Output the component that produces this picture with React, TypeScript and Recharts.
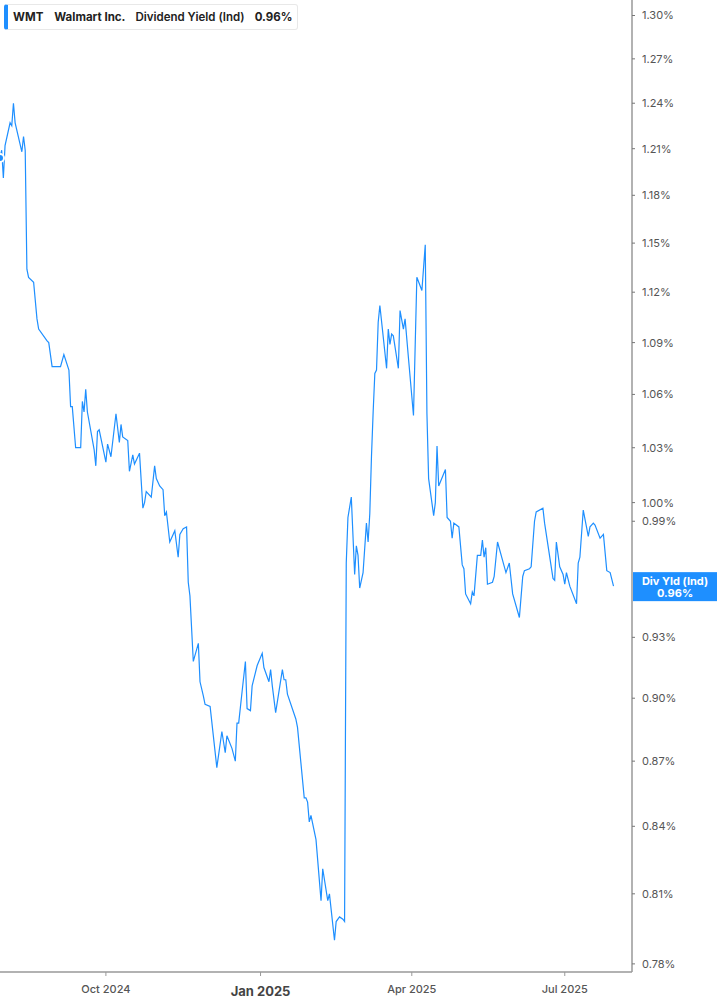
import React from "react";
import { LineChart, Line, XAxis, YAxis, ReferenceLine } from "recharts";

const dates: string[] = [
  "2024-07-30","2024-07-31","2024-08-01","2024-08-02","2024-08-05","2024-08-06","2024-08-07","2024-08-08","2024-08-12","2024-08-13",
  "2024-08-14","2024-08-15","2024-08-16","2024-08-19","2024-08-21","2024-08-22","2024-08-27","2024-08-28","2024-08-30","2024-09-03",
  "2024-09-04","2024-09-06","2024-09-09","2024-09-10","2024-09-11","2024-09-13","2024-09-16","2024-09-17","2024-09-18","2024-09-19",
  "2024-09-20","2024-09-24","2024-09-25","2024-09-26","2024-09-27","2024-10-01","2024-10-02","2024-10-04","2024-10-07","2024-10-09",
  "2024-10-10","2024-10-11","2024-10-14","2024-10-15","2024-10-17","2024-10-18","2024-10-21","2024-10-23","2024-10-24","2024-10-25",
  "2024-10-28","2024-10-30","2024-10-31","2024-11-02","2024-11-04","2024-11-05","2024-11-06","2024-11-08","2024-11-11","2024-11-13",
  "2024-11-14","2024-11-16","2024-11-18","2024-11-19","2024-11-20","2024-11-22","2024-11-25","2024-11-26","2024-11-28","2024-11-29",
  "2024-12-02","2024-12-06","2024-12-09","2024-12-11","2024-12-12","2024-12-15","2024-12-17","2024-12-18","2024-12-19","2024-12-21",
  "2024-12-23","2024-12-24","2024-12-26","2024-12-27","2024-12-30","2025-01-02","2025-01-03","2025-01-06","2025-01-07","2025-01-08",
  "2025-01-10","2025-01-14","2025-01-15","2025-01-16","2025-01-17","2025-01-22","2025-01-23","2025-01-27","2025-01-28","2025-01-29",
  "2025-01-30","2025-01-31","2025-02-03","2025-02-06","2025-02-07","2025-02-10","2025-02-11","2025-02-14","2025-02-15","2025-02-17",
  "2025-02-19","2025-02-20","2025-02-21","2025-02-22","2025-02-24","2025-02-26","2025-02-27","2025-02-28","2025-03-01","2025-03-03",
  "2025-03-05","2025-03-06","2025-03-07","2025-03-08","2025-03-09","2025-03-10","2025-03-11","2025-03-12","2025-03-13","2025-03-17",
  "2025-03-18","2025-03-19","2025-03-20","2025-03-21","2025-03-24","2025-03-25","2025-03-27","2025-03-28","2025-03-30","2025-04-02",
  "2025-04-04","2025-04-07","2025-04-09","2025-04-10","2025-04-11","2025-04-14","2025-04-15","2025-04-16","2025-04-17","2025-04-21",
  "2025-04-22","2025-04-24","2025-04-25","2025-04-26","2025-04-29","2025-05-01","2025-05-02","2025-05-03","2025-05-06","2025-05-07",
  "2025-05-08","2025-05-10","2025-05-12","2025-05-13","2025-05-14","2025-05-15","2025-05-16","2025-05-19","2025-05-20","2025-05-22",
  "2025-05-27","2025-05-29","2025-05-31","2025-06-04","2025-06-06","2025-06-07","2025-06-10","2025-06-11","2025-06-13","2025-06-14",
  "2025-06-18","2025-06-19","2025-06-24","2025-06-25","2025-06-26","2025-06-28","2025-06-30","2025-07-01","2025-07-02","2025-07-04",
  "2025-07-08","2025-07-09","2025-07-10","2025-07-12","2025-07-15","2025-07-16","2025-07-18","2025-07-19","2025-07-22","2025-07-24",
  "2025-07-26","2025-07-28","2025-07-30",
];

const yields: number[] = [
  1.204,1.209,1.191,1.212,1.227,1.225,1.240,1.227,1.208,1.218,
  1.209,1.134,1.129,1.126,1.104,1.098,1.091,1.090,1.076,1.076,
  1.076,1.083,1.074,1.053,1.053,1.030,1.030,1.056,1.050,1.063,
  1.050,1.029,1.020,1.039,1.040,1.022,1.032,1.025,1.049,1.033,
  1.043,1.036,1.034,1.017,1.026,1.021,1.027,0.997,1.000,1.006,
  1.003,1.020,1.013,1.009,1.007,0.993,0.995,0.979,0.985,0.971,
  0.983,0.986,0.987,0.958,0.951,0.918,0.927,0.908,0.901,0.897,
  0.896,0.867,0.884,0.874,0.882,0.876,0.870,0.888,0.888,0.903,
  0.918,0.895,0.894,0.906,0.916,0.922,0.915,0.908,0.914,0.906,
  0.893,0.914,0.909,0.909,0.902,0.890,0.886,0.853,0.853,0.851,
  0.842,0.845,0.834,0.807,0.821,0.807,0.810,0.790,0.798,0.800,
  0.799,0.798,0.968,0.992,1.003,0.962,0.977,0.972,0.955,0.963,
  0.989,0.979,0.994,1.025,1.050,1.072,1.074,1.102,1.112,1.075,
  1.098,1.089,1.095,1.094,1.075,1.109,1.098,1.104,1.081,1.048,
  1.129,1.121,1.149,1.049,1.013,0.993,1.000,1.031,1.009,1.018,
  0.992,0.990,0.981,0.989,0.987,0.967,0.965,0.952,0.947,0.953,
  0.951,0.972,0.972,0.980,0.971,0.976,0.957,0.958,0.961,0.979,
  0.963,0.968,0.952,0.940,0.961,0.964,0.965,0.966,0.990,0.995,
  0.997,0.989,0.960,0.959,0.979,0.966,0.962,0.957,0.963,0.956,
  0.947,0.968,0.971,0.996,0.982,0.987,0.989,0.988,0.981,0.983,
  0.964,0.963,0.956,
];

const xTickDates: string[] = ["2024-10-01", "2025-01-01", "2025-04-01", "2025-07-01"];
const xTickLabels: string[] = ["Oct 2024", "Jan 2025", "Apr 2025", "Jul 2025"];
const yTicks: number[] = [1.30, 1.27, 1.24, 1.21, 1.18, 1.15, 1.12, 1.09, 1.06, 1.03, 1.00, 0.99, 0.93, 0.90, 0.87, 0.84, 0.81, 0.78];

const ticker = "WMT";
const company = "Walmart Inc.";
const metric = "Dividend Yield (Ind)";
const badgeTitle = "Div Yld (Ind)";

const DAY = 86400000;
const toTs = (d: string) => Date.parse(d + "T00:00:00Z");
const data = dates.map((d, i) => ({ t: toTs(d), v: yields[i] }));
const xStart = toTs("2024-07-30");
const xEnd = xStart + 376 * DAY;
const xTicks = xTickDates.map(toTs);
const lastValue = yields[yields.length - 1];

const BLUE = "#1E8FFF";
const FONT = "Inter, 'Noto Sans', sans-serif";

const XTick = (props: any) => {
  const { x, y, payload } = props;
  const idx = xTicks.indexOf(payload.value);
  const label = idx >= 0 ? xTickLabels[idx] : "";
  const isYear = label.startsWith("Jan");
  return (
    <text
      x={x}
      y={y}
      dy={isYear ? 16 : 13}
      textAnchor="middle"
      fontFamily={FONT}
      fontSize={isYear ? 13 : 11}
      fontWeight={isYear ? 700 : 500}
      fill={isYear ? "#444" : "#555"}
    >
      {label}
    </text>
  );
};

const Badge = (props: any) => {
  const vb = props.viewBox || {};
  const bx = (vb.x ?? 0) + (vb.width ?? 0) + 1;
  const cy = vb.y ?? 0;
  return (
    <g>
      <rect x={bx} y={cy - 14} width={85} height={29} fill={BLUE} />
      <text x={bx + 42} y={cy - 1} textAnchor="middle" fontFamily={FONT} fontSize={11} fontWeight={700} fill="#fff">
        {badgeTitle}
      </text>
      <text x={bx + 42} y={cy + 11} textAnchor="middle" fontFamily={FONT} fontSize={11} fontWeight={700} fill="#fff">
        {lastValue.toFixed(2)}%
      </text>
    </g>
  );
};

export default function App() {
  return (
    <div style={{ position: "absolute", left: 0, top: 0, width: 717, height: 1005, background: "#fff" }}>
      <LineChart width={717} height={1005} data={data} margin={{ top: 0, right: 0, bottom: 0, left: 0 }}>
        <XAxis
          dataKey="t"
          type="number"
          scale="linear"
          domain={[xStart, xEnd]}
          allowDataOverflow
          ticks={xTicks}
          tick={<XTick />}
          height={33}
          tickSize={4}
          tickMargin={4}
          axisLine={{ stroke: "#999", strokeWidth: 1.5 }}
          tickLine={{ stroke: "#999" }}
          interval={0}
        />
        <YAxis
          orientation="right"
          scale="log"
          domain={[0.7766, 1.3109]}
          allowDataOverflow
          ticks={yTicks}
          interval={0}
          width={85}
          tickSize={3}
          tickMargin={7}
          axisLine={{ stroke: "#999", strokeWidth: 1.5 }}
          tickLine={{ stroke: "#777" }}
          tick={{ fill: "#555", fontSize: 11, fontFamily: FONT, textAnchor: "start" }}
          tickFormatter={(v: number) => v.toFixed(2) + "%"}
        />
        <ReferenceLine y={lastValue} stroke="none" label={<Badge />} ifOverflow="visible" />
        <Line type="linear" dataKey="v" stroke={BLUE} strokeWidth={1.2} dot={false} isAnimationActive={false} />
      </LineChart>
      <div
        style={{
          position: "absolute",
          left: 4,
          top: 4,
          width: 294,
          height: 26,
          boxSizing: "border-box",
          border: "1px solid #e8e8e8",
          borderLeft: `4px solid ${BLUE}`,
          borderRadius: 3,
          background: "#fff",
          display: "flex",
          alignItems: "center",
          fontFamily: FONT,
          fontSize: 11.5,
          color: "#222",
          whiteSpace: "nowrap",
        }}
      >
        <span style={{ marginLeft: 5, fontWeight: 700 }}>{ticker}</span>
        <span style={{ marginLeft: 11, fontWeight: 700 }}>{company}</span>
        <span style={{ marginLeft: 10, fontWeight: 600 }}>{metric}</span>
        <span style={{ marginLeft: 10, fontWeight: 700 }}>{lastValue.toFixed(2)}%</span>
      </div>
    </div>
  );
}
